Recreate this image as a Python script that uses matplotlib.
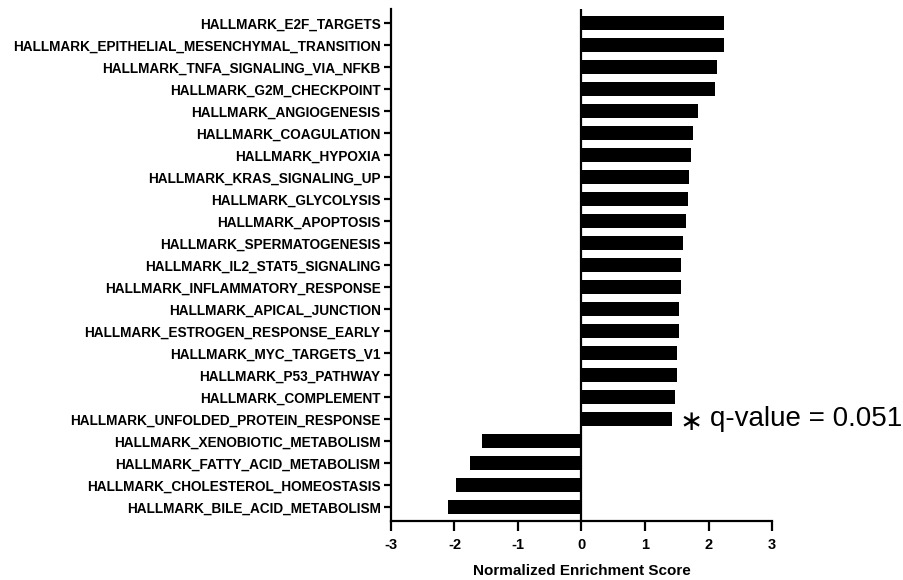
import matplotlib
matplotlib.use("Agg")
import matplotlib.pyplot as plt

plt.rcParams['font.family'] = ['Liberation Sans', 'DejaVu Sans']

pathways = ['HALLMARK_E2F_TARGETS', 'HALLMARK_EPITHELIAL_MESENCHYMAL_TRANSITION',
            'HALLMARK_TNFA_SIGNALING_VIA_NFKB', 'HALLMARK_G2M_CHECKPOINT',
            'HALLMARK_ANGIOGENESIS', 'HALLMARK_COAGULATION', 'HALLMARK_HYPOXIA',
            'HALLMARK_KRAS_SIGNALING_UP', 'HALLMARK_GLYCOLYSIS', 'HALLMARK_APOPTOSIS',
            'HALLMARK_SPERMATOGENESIS', 'HALLMARK_IL2_STAT5_SIGNALING',
            'HALLMARK_INFLAMMATORY_RESPONSE', 'HALLMARK_APICAL_JUNCTION',
            'HALLMARK_ESTROGEN_RESPONSE_EARLY', 'HALLMARK_MYC_TARGETS_V1',
            'HALLMARK_P53_PATHWAY', 'HALLMARK_COMPLEMENT',
            'HALLMARK_UNFOLDED_PROTEIN_RESPONSE', 'HALLMARK_XENOBIOTIC_METABOLISM',
            'HALLMARK_FATTY_ACID_METABOLISM', 'HALLMARK_CHOLESTEROL_HOMEOSTASIS',
            'HALLMARK_BILE_ACID_METABOLISM']
nes = [2.25, 2.24, 2.14, 2.11, 1.84, 1.75, 1.72, 1.69, 1.67, 1.64, 1.60, 1.56,
       1.56, 1.53, 1.53, 1.50, 1.50, 1.48, 1.43, -1.57, -1.76, -1.98, -2.11]
xticks = [-3, -2, -1, 0, 1, 2, 3]
note_row = 'HALLMARK_UNFOLDED_PROTEIN_RESPONSE'
note_text = 'q-value = 0.051'

fig = plt.figure(figsize=(9.04, 5.8), dpi=100)
ax = fig.add_axes([0.4325, 0.1017, 0.4215, 0.8828])

ypos = list(range(len(pathways)))
ax.barh(ypos, nes, height=0.66, color='black')
ax.axvline(0, color='black', lw=1.6)

ax.set_xlim(-3, 3)
ax.set_ylim(len(pathways) - 1 + 0.64, -0.64)
ax.set_xticks(xticks)
ax.set_xticklabels([str(t) for t in xticks], fontweight='bold', fontsize=10.5)
ax.set_yticks(ypos)
ax.set_yticklabels(pathways, fontweight='bold', fontsize=9.8)
ax.tick_params(axis='y', length=5, width=1.6, pad=2.5)
ax.tick_params(axis='x', length=7, width=1.6, pad=5)
ax.set_xlabel('Normalized Enrichment Score', fontweight='bold', fontsize=11, labelpad=9)

for s in ['top', 'right']:
    ax.spines[s].set_visible(False)
for s in ['left', 'bottom']:
    ax.spines[s].set_linewidth(1.6)

i = pathways.index(note_row)
ax.text(nes[i] + 0.12, i + 0.15, '\u2217', fontsize=20,
        ha='left', va='center', family=['DejaVu Sans'], clip_on=False)
ax.text(nes[i] + 0.6, i, note_text, fontsize=20, ha='left', va='center', clip_on=False)

fig.savefig('out.png', dpi=100)
